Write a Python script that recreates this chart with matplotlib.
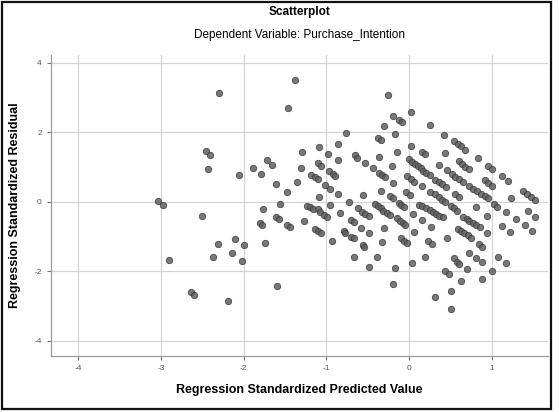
import matplotlib
matplotlib.use("Agg")
from matplotlib import pyplot as plt
from matplotlib.patches import Rectangle

plt.rc('font', family=['Liberation Sans', 'DejaVu Sans'])

title = "Scatterplot"
subtitle = "Dependent Variable: Purchase_Intention"
x_label = "Regression Standardized Predicted Value"
y_label = "Regression Standardized Residual"
x_ticks = [-4, -3, -2, -1, 0, 1]
y_ticks = [-4, -2, 0, 2, 4]

# standardized predicted values
pred = [
    -3.04, -2.97, -2.90, -2.64, -2.60, -2.50, -2.45, -2.40, -2.43, -2.37,
    -2.31, -2.30, -2.19, -2.14, -2.10, -2.05, -2.00, -2.02,
    -1.89, -1.79, -1.72, -1.66, -1.61, -1.47, -1.35, -1.31, -1.29, -1.38,
    -1.46, -1.56, -1.76, -1.80, -1.78, -1.61, -1.57, -1.47, -1.44, -1.27,
    -1.74, -1.59,
    -1.23, -1.20, -1.16, -1.10, -1.07, -1.03, -0.99, -0.96, -0.83, -1.14,
    -1.10, -1.06, -0.93, -1.09, -0.98, -0.86, -0.76, -0.86, -1.10, -1.06,
    -1.19, -1.14, -1.10, -0.97, -0.92, -0.89, -1.01, -0.96, -1.09, -0.86,
    -0.65, -0.63, -0.53, -0.44, -0.37, -0.34, -0.56, -0.73, -0.70, -0.67,
    -0.61, -0.57, -0.53, -0.48, -0.41, -0.37, -0.34, -0.79, -0.77, -0.70,
    -0.67, -0.48, -0.58, -0.56, -0.54, -0.66, -0.48, -0.39,
    -0.25, -0.19, -0.12, -0.08, -0.30, -0.17, -0.36, -0.14, -0.20, -0.36,
    -0.33, -0.29, -0.19, -0.34, -0.23, -0.19, -0.02, 0.02, 0.06, -0.03,
    0.01, -0.12, -0.09, -0.06, -0.31, -0.27, -0.23, -0.15, -0.11, -0.07,
    -0.05, -0.30, -0.33, -0.10, -0.06, -0.02, -0.17, -0.19,
    0.03, 0.25, 0.43, 0.03, 0.00, 0.04, 0.07, 0.11, 0.15, 0.16,
    0.19, 0.44, 0.36, 0.17, 0.21, 0.26, 0.46, 0.52, 0.56, 0.60,
    0.65, 0.32, 0.36, 0.40, 0.45, 0.16, 0.26, 0.31, 0.36, 0.40,
    0.44, 0.12, 0.16, 0.21, 0.25, 0.29, 0.33, 0.37, 0.41, 0.05,
    0.16, 0.27, 0.06, 0.23, 0.28, 0.20, 0.04, 0.46, 0.44, 0.49,
    0.31, 0.51, 0.51, 0.51, 0.55, 0.58,
    0.54, 0.59, 0.63, 0.68, 0.83, 0.60, 0.64, 0.68, 0.73, 0.96,
    1.01, 0.92, 0.96, 1.01, 0.73, 0.77, 0.82, 0.87, 0.92, 0.96,
    0.56, 0.61, 0.81, 0.65, 0.70, 0.73, 0.77, 0.81, 0.86, 0.59,
    0.63, 0.67, 0.72, 0.75, 0.85, 0.89, 0.73, 0.81, 0.88, 0.54,
    0.58, 0.61, 0.70, 0.63, 0.88, 0.95, 0.95,
    1.12, 1.20, 1.23, 1.38, 1.43, 1.48, 1.52, 1.03, 1.06, 1.17,
    1.44, 1.29, 1.12, 1.22, 1.40, 1.49, 1.53, 1.08, 1.17, 1.01,
]

# standardized residuals, same order
resid = [
    0.02, -0.09, -1.67, -2.59, -2.67, -0.40, 1.45, 1.35, 0.93, -1.60,
    -1.20, 3.13, -2.86, -1.48, -1.07, 0.77, -1.24, -1.70,
    0.98, 0.81, 1.19, 1.07, 0.51, 0.27, 0.57, 0.98, 1.43, 3.51,
    2.68, -0.07, -0.20, -0.60, -0.66, -0.43, -0.50, -0.67, -0.73, -0.55,
    -1.19, -2.43,
    -0.11, -0.16, -0.22, -0.21, -0.29, -0.38, -0.45, -0.09, -0.32, -0.77,
    -0.85, -0.91, -1.12, 1.57, 1.38, 1.66, 1.98, 1.19, 1.11, 1.04,
    0.77, 0.70, 0.64, 0.87, 0.80, 0.74, 0.47, 0.38, 0.13, 0.21,
    1.33, 1.27, 1.10, 0.96, 1.84, 1.77, 0.19, 0.00, -0.53, -0.59,
    -0.19, -0.28, -0.34, -0.41, -0.07, -0.11, -0.17, -0.83, -0.89, -1.00,
    -1.05, -0.91, -0.75, -1.24, -1.31, -1.58, -1.88, -1.58,
    3.06, 2.45, 2.34, 2.30, 2.18, 1.94, 1.30, 1.42, 1.03, 0.84,
    0.77, 0.71, 0.55, 0.31, 0.16, 0.10, 0.73, 0.65, 0.57, 0.27,
    0.19, -0.05, -0.10, -0.16, -0.26, -0.33, -0.38, -0.48, -0.55, -0.62,
    -0.67, -0.74, -1.16, -1.05, -1.12, -1.19, -1.91, -2.36,
    2.58, 2.20, 1.91, 1.61, 1.22, 1.15, 1.09, 1.03, 0.96, 1.43,
    1.37, 1.40, 1.05, 0.89, 0.82, 0.76, 0.90, 0.79, 0.72, 0.65,
    0.57, 0.62, 0.56, 0.50, 0.42, 0.44, 0.29, 0.21, 0.13, 0.06,
    -0.01, -0.08, -0.13, -0.18, -0.24, -0.29, -0.34, -0.40, -0.44, -0.35,
    -0.53, -0.72, -0.86, -1.12, -1.21, -1.58, -1.77, -1.03, -1.99, -2.07,
    -2.73, -2.57, -3.07, -0.11, -0.19, -0.27,
    1.74, 1.66, 1.59, 1.49, 1.25, 1.17, 1.09, 1.00, 0.93, 1.02,
    0.94, 0.62, 0.54, 0.46, 0.45, 0.38, 0.31, 0.23, 0.16, 0.10,
    0.23, 0.15, -0.15, -0.43, -0.50, -0.55, -0.62, -0.67, -0.72, -0.79,
    -0.85, -0.91, -0.96, -1.03, -1.22, -1.29, -1.48, -1.62, -1.73, -1.63,
    -1.72, -1.79, -1.94, -2.28, -2.22, -0.41, -0.91,
    0.74, 0.61, 0.10, 0.31, 0.23, 0.15, 0.06, -0.07, -0.15, -0.28,
    -0.26, -0.50, -0.69, -0.87, -0.68, -0.85, -0.43, -1.60, -1.75, -1.98,
]

fig = plt.figure(figsize=(5.59, 4.12), dpi=100)
ax = fig.add_axes([0.091, 0.136, 0.889, 0.730])

ax.scatter(pred, resid, s=21, c='#606060', edgecolors='#383838',
           linewidths=0.6, alpha=0.85, zorder=3)

ax.set_xlim(-4.33, 1.68)
ax.set_ylim(-4.43, 4.21)
ax.set_xticks(x_ticks)
ax.set_yticks(y_ticks)
ax.set_xticklabels([str(t) for t in x_ticks])
ax.set_yticklabels([str(t) for t in y_ticks])
ax.tick_params(labelsize=6, colors='#555555', length=3, width=0.6)
ax.grid(True, color='#d4d4d4', lw=0.9, zorder=0)

for side in ['top', 'right']:
    ax.spines[side].set_visible(False)
for side in ['left', 'bottom']:
    ax.spines[side].set_color('#9a9a9a')
    ax.spines[side].set_linewidth(0.9)

ax.set_xlabel(x_label, fontsize=9, fontweight='bold', labelpad=9)
ax.set_ylabel(y_label, fontsize=9, fontweight='bold', labelpad=10)

fig.text(0.535, 0.972, title, ha='center', va='center', fontsize=8.5,
         fontweight='bold')
fig.text(0.535, 0.915, subtitle, ha='center', va='center', fontsize=8.5)

# dark frame around the whole picture
fig.patches.append(Rectangle((0.004, 0.008), 0.982, 0.988,
                             transform=fig.transFigure, fill=False,
                             edgecolor='#111111', lw=1.6))

fig.savefig('out.png', dpi=100)
